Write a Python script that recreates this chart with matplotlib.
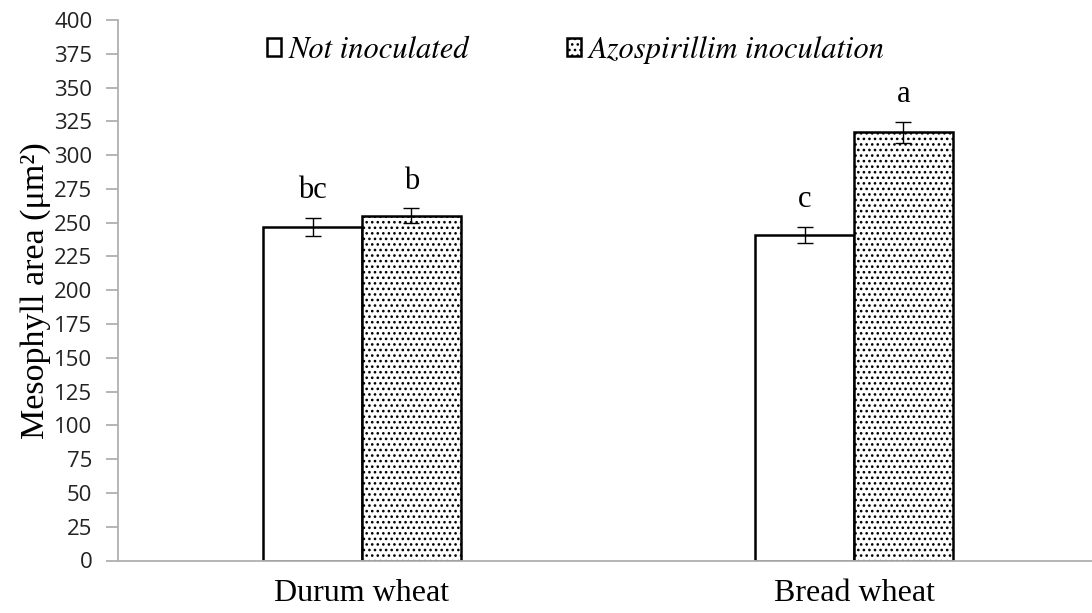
import matplotlib.pyplot as plt
from matplotlib.font_manager import FontProperties
import numpy as np

categories = ["Durum wheat", "Bread wheat"]
not_inoculated = [247, 241]
not_inoculated_err = [6.5, 6]
azospirillum = [255, 317]
azospirillum_err = [5.5, 7.8]
letters_not = ["bc", "c"]
letters_azo = ["b", "a"]

serif = "Liberation Serif"

plt.rcParams["hatch.linewidth"] = 1.1
fig = plt.figure(figsize=(10.92, 6.13), dpi=100)
ax = fig.add_axes([118 / 1092, 1 - 560.5 / 613, 1 - 118 / 1092, (560.5 - 20) / 613])

x = np.arange(len(categories))
w = 0.201

ax.bar(x - w / 2, not_inoculated, w, color="white", edgecolor="black",
       linewidth=1.8, label="Not inoculated", zorder=2)
ax.bar(x + w / 2, azospirillum, w, color="white", edgecolor="black",
       hatch="...", linewidth=1.8, label="Azospirillim inoculation", zorder=2)
ax.errorbar(x - w / 2, not_inoculated, yerr=not_inoculated_err, fmt="none",
            ecolor="black", elinewidth=1, capsize=6, capthick=1, zorder=3)
ax.errorbar(x + w / 2, azospirillum, yerr=azospirillum_err, fmt="none",
            ecolor="black", elinewidth=1, capsize=6, capthick=1, zorder=3)

for i in range(len(categories)):
    ax.annotate(letters_not[i], (x[i] - w / 2, not_inoculated[i] + not_inoculated_err[i]),
                xytext=(0, 9), textcoords="offset points", ha="center", va="bottom",
                fontsize=22, family=serif)
    ax.annotate(letters_azo[i], (x[i] + w / 2, azospirillum[i] + azospirillum_err[i]),
                xytext=(0, 9), textcoords="offset points", ha="center", va="bottom",
                fontsize=22, family=serif)

ax.set_xlim((118 - 362) / 492, (1092 - 362) / 492)
ax.set_ylim(0, 400)
ax.set_yticks(np.arange(0, 401, 25))
ax.set_xticks(x)
ax.set_xticklabels(categories, fontsize=23, family=serif)
ax.tick_params(axis="x", length=0, pad=13)
ax.tick_params(axis="y", length=8.5, width=1.3, color="#b0b0b0", labelsize=16, pad=10)
for lab in ax.get_yticklabels():
    lab.set_family("Open Sans")
    lab.set_color("#222222")
ax.set_ylabel("Mesophyll area (\u03bcm\u00b2)", fontsize=24.5, family=serif, labelpad=2)

for s in ["top", "right"]:
    ax.spines[s].set_visible(False)
for s in ["left", "bottom"]:
    ax.spines[s].set_color("#b0b0b0")
    ax.spines[s].set_linewidth(1.3)

# Liberation Serif has no italic here, STIX is the Times-like one that does
leg_font = FontProperties(family="STIXGeneral", style="italic", size=22)
leg = ax.legend(loc="center", bbox_to_anchor=(0.47, 0.945), ncol=2,
                frameon=False, columnspacing=3.2, handlelength=0.46, handleheight=0.5,
                handletextpad=0.26, borderpad=0, prop=leg_font)
for p in leg.get_patches():
    p.set_linewidth(1.8)

plt.savefig("out.png")
